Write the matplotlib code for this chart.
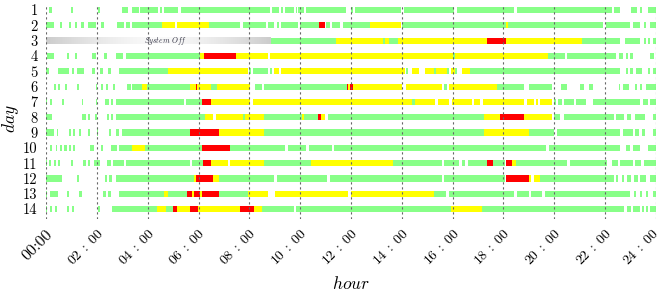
import numpy as np
import matplotlib
matplotlib.use("Agg")
import matplotlib.pyplot as plt
from matplotlib.transforms import ScaledTranslation

plt.rcParams['font.family'] = 'serif'
plt.rcParams['font.serif'] = ['cmr10', 'DejaVu Serif']
plt.rcParams['mathtext.fontset'] = 'cm'
plt.rcParams['axes.unicode_minus'] = False
plt.rcParams['axes.formatter.use_mathtext'] = True

# ---- data: (start_hour, end_hour, state) per day ----
day_01 = [(0.13,0.24,'g'),(0.97,1.06,'g'),(2.06,2.14,'g'),(2.99,3.23,'g'),(3.39,3.65,'g'),(3.70,4.41,'g'),
          (4.49,4.55,'g'),(4.65,5.21,'g'),(5.33,8.82,'g'),(8.91,9.15,'g'),(9.25,9.32,'g'),(9.41,9.74,'g'),
          (9.83,9.89,'g'),(9.93,10.17,'g'),(10.24,11.81,'g'),(12.01,12.06,'g'),(12.17,13.96,'g'),
          (14.09,16.07,'g'),(16.17,18.43,'g'),(18.53,22.27,'g'),(22.36,22.60,'g'),(23.03,23.26,'g'),
          (23.36,23.43,'g'),(23.69,24.0,'g')]
day_02 = [(0,0.31,'g'),(0.55,0.63,'g'),(0.92,0.98,'g'),(1.14,1.22,'g'),(1.39,1.50,'g'),(1.67,1.97,'g'),
          (2.17,2.28,'g'),(2.81,3.07,'g'),(3.15,3.31,'g'),(3.39,4.57,'g'),(4.57,5.08,'y'),(5.16,6.42,'y'),
          (6.42,7.64,'g'),(7.77,8.65,'g'),(8.73,8.99,'g'),(9.08,9.15,'g'),(9.24,9.93,'g'),(10.0,10.75,'g'),
          (10.75,10.98,'r'),(11.02,11.18,'g'),(11.27,11.57,'g'),(11.67,12.76,'g'),(12.76,13.96,'y'),
          (13.99,18.11,'g'),(18.11,18.18,'y'),(18.18,21.92,'g'),(22.02,22.99,'g'),(23.10,23.36,'g'),
          (23.52,23.62,'g'),(23.78,24.0,'g')]
day_03 = [(8.86,11.41,'g'),(11.41,13.24,'y'),(13.24,13.35,'g'),(13.35,13.50,'y'),(13.50,13.85,'g'),
          (13.85,17.35,'y'),(17.35,18.10,'r'),(18.10,21.09,'y'),(21.09,22.60,'g'),(22.78,23.36,'g'),
          (23.52,23.62,'g'),(23.70,23.78,'g'),(23.89,24.0,'g')]
day_04 = [(0.05,0.31,'g'),(0.81,0.91,'g'),(1.13,1.21,'g'),(1.80,1.97,'g'),(2.30,2.39,'g'),(2.76,3.04,'g'),
          (3.15,6.04,'g'),(6.04,6.22,'y'),(6.22,7.48,'r'),(7.48,8.73,'y'),(8.83,16.0,'y'),(16.0,16.1,'g'),
          (16.10,19.75,'y'),(19.75,20.43,'g'),(20.50,22.43,'g'),(22.53,22.69,'g'),(22.80,22.89,'g'),
          (22.99,23.10,'g'),(23.78,23.91,'g')]
day_05 = [(0,0.11,'g'),(0.48,0.91,'g'),(1.01,1.09,'g'),(1.23,1.48,'g'),(1.80,1.93,'g'),(2.14,2.23,'g'),
          (2.43,2.56,'g'),(2.89,4.81,'g'),(4.81,7.96,'y'),(7.99,8.07,'g'),(8.16,8.75,'g'),(8.83,8.91,'g'),
          (8.99,9.15,'y'),(9.24,14.13,'y'),(14.15,14.26,'g'),(14.40,14.66,'y'),(14.92,15.25,'y'),
          (15.25,15.33,'g'),(15.33,15.58,'y'),(15.60,15.78,'y'),(15.79,15.87,'g'),(15.92,16.10,'y'),
          (16.10,16.18,'g'),(16.37,16.67,'y'),(16.67,22.57,'g'),(22.80,22.90,'g'),(22.99,23.10,'g'),
          (23.20,23.43,'g'),(23.69,23.78,'g'),(23.89,24.0,'g')]
day_06 = [(0.33,0.39,'g'),(0.48,0.55,'g'),(0.75,0.81,'g'),(1.21,1.30,'g'),(1.97,2.02,'g'),(2.17,2.26,'g'),
          (2.36,2.45,'g'),(2.65,2.73,'g'),(3.18,3.33,'g'),(3.40,3.77,'g'),(3.77,3.96,'y'),(3.96,5.67,'g'),
          (5.67,5.89,'y'),(5.89,5.96,'r'),(5.96,6.50,'y'),(6.50,6.74,'g'),(6.74,8.03,'y'),(8.23,8.49,'g'),
          (8.58,11.84,'g'),(11.84,11.90,'r'),(11.90,11.98,'y'),(11.98,12.06,'r'),(12.06,14.0,'y'),
          (14.17,15.60,'y'),(15.67,15.78,'g'),(15.85,17.74,'y'),(17.74,18.82,'g'),(19.02,19.91,'g'),
          (20.28,20.50,'g'),(21.02,21.18,'g'),(21.35,21.51,'g'),(22.53,22.60,'g'),(22.70,22.93,'g'),
          (23.19,23.26,'g'),(23.39,23.46,'g'),(23.61,24.0,'g')]
day_07 = [(0,0.05,'g'),(0.16,0.24,'g'),(0.64,0.71,'g'),(1.40,1.47,'g'),(1.97,2.0,'g'),(2.32,2.47,'g'),
          (2.55,2.63,'g'),(2.76,5.41,'g'),(5.50,6.15,'g'),(6.15,6.50,'r'),(6.50,8.03,'y'),(8.16,14.40,'y'),
          (14.40,14.50,'g'),(14.50,15.31,'y'),(15.44,15.84,'y'),(15.96,16.77,'y'),(16.85,17.09,'y'),
          (17.18,18.82,'y'),(18.93,19.19,'y'),(19.28,19.34,'y'),(19.42,19.91,'y'),(20.0,20.08,'g'),
          (20.13,20.30,'g'),(20.37,20.76,'g'),(20.85,21.26,'g'),(21.52,23.36,'g'),(23.49,23.67,'g'),
          (23.78,24.0,'g')]
day_08 = [(0,0.22,'g'),(1.40,1.56,'g'),(1.64,1.73,'g'),(1.93,2.0,'g'),(2.39,2.49,'g'),(2.55,2.65,'g'),
          (2.74,6.25,'g'),(6.25,6.59,'y'),(6.68,7.77,'y'),(7.77,7.83,'g'),(7.83,8.56,'y'),(8.56,10.07,'g'),
          (10.07,10.16,'y'),(10.16,10.72,'g'),(10.72,10.83,'r'),(10.83,10.98,'y'),(11.09,17.24,'g'),
          (17.24,17.85,'y'),(17.85,18.82,'r'),(18.82,19.91,'y'),(19.97,20.24,'g'),(20.37,22.36,'g'),
          (22.44,22.76,'g'),(22.86,23.02,'g'),(23.19,23.58,'g'),(23.87,24.0,'g')]
day_09 = [(0,0.31,'g'),(0.42,0.46,'g'),(0.92,0.98,'g'),(1.08,1.15,'g'),(1.31,1.38,'g'),(1.67,1.73,'g'),
          (2.0,2.06,'g'),(2.48,2.57,'g'),(2.76,2.89,'g'),(3.0,5.67,'g'),(5.67,6.82,'r'),(6.82,8.56,'y'),
          (8.56,17.24,'g'),(17.24,19.02,'y'),(19.02,19.97,'g'),(20.11,22.60,'g'),(22.70,23.10,'g'),
          (23.19,23.32,'g'),(23.45,23.58,'g'),(23.87,24.0,'g')]
day_10 = [(0.16,0.22,'g'),(0.38,0.45,'g'),(0.55,0.63,'g'),(0.72,0.81,'g'),(0.92,0.98,'g'),(1.08,1.14,'g'),
          (1.73,1.89,'g'),(2.17,2.23,'g'),(2.57,2.81,'g'),(2.89,3.37,'g'),(3.37,3.91,'y'),(3.91,6.14,'g'),
          (6.14,7.24,'r'),(7.24,9.41,'g'),(9.52,10.24,'g'),(10.33,11.25,'g'),(11.34,19.69,'g'),
          (19.78,22.60,'g'),(22.80,22.99,'g'),(23.10,23.36,'g'),(23.67,24.0,'g')]
day_11 = [(0,0.05,'g'),(0.12,0.20,'g'),(0.31,0.38,'g'),(0.48,0.55,'g'),(0.98,1.08,'g'),(1.47,1.56,'g'),
          (1.64,1.73,'g'),(1.89,2.13,'g'),(2.39,2.55,'g'),(2.65,3.07,'g'),(3.15,5.67,'g'),(5.73,6.17,'g'),
          (6.17,6.50,'r'),(6.50,7.15,'y'),(7.24,8.56,'y'),(8.56,10.42,'g'),(10.42,13.65,'y'),
          (13.65,15.58,'g'),(15.67,16.23,'g'),(16.37,16.50,'g'),(16.60,17.35,'g'),(17.35,17.59,'r'),
          (17.59,18.07,'g'),(18.11,18.33,'r'),(18.33,18.50,'y'),(18.50,20.50,'g'),(20.60,22.07,'g'),
          (22.27,22.49,'g'),(22.60,23.10,'g'),(23.19,23.41,'g'),(23.52,24.0,'g')]
day_12 = [(0,0.64,'g'),(1.23,1.31,'g'),(2.32,2.41,'g'),(2.49,2.59,'g'),(2.74,5.83,'g'),(5.83,5.91,'y'),
          (5.91,6.56,'r'),(6.56,6.82,'y'),(6.82,8.99,'g'),(9.08,11.07,'g'),(11.18,15.58,'g'),
          (15.67,18.07,'g'),(18.11,19.02,'r'),(19.02,19.09,'y'),(19.19,19.42,'y'),(19.42,22.33,'g'),
          (22.44,22.49,'g'),(22.67,22.76,'g'),(22.86,23.02,'g'),(23.12,23.28,'g'),(23.39,23.62,'g'),
          (23.75,24.0,'g')]
day_13 = [(0,0.05,'g'),(0.16,0.46,'g'),(0.81,0.91,'g'),(1.31,1.40,'g'),(2.26,2.35,'g'),(2.43,2.56,'g'),
          (2.89,4.65,'g'),(4.65,4.81,'y'),(4.81,5.56,'g'),(5.56,5.73,'r'),(5.73,5.83,'y'),(5.83,6.06,'r'),
          (6.06,6.15,'y'),(6.15,6.82,'r'),(6.82,7.94,'g'),(7.94,8.73,'y'),(9.02,11.90,'y'),
          (12.01,15.28,'y'),(15.28,15.75,'g'),(15.87,18.40,'g'),(18.53,19.02,'g'),(19.09,19.52,'g'),
          (19.62,22.99,'g'),(23.12,23.23,'g'),(23.36,23.45,'g'),(23.61,23.69,'g'),(23.87,24.0,'g')]
day_14 = [(0,0.05,'g'),(0.16,0.25,'g'),(0.35,0.42,'g'),(0.81,0.91,'g'),(1.01,1.10,'g'),(2.06,2.13,'g'),
          (2.59,4.38,'g'),(4.38,4.72,'y'),(4.72,4.99,'g'),(4.99,5.15,'r'),(5.15,5.67,'y'),(5.67,5.97,'r'),
          (5.97,7.64,'y'),(7.64,8.20,'r'),(8.20,8.49,'y'),(8.49,9.74,'g'),(9.83,15.94,'g'),
          (15.94,17.15,'y'),(17.15,22.76,'g'),(22.86,23.02,'g'),(23.10,23.36,'g'),(23.45,23.52,'g'),
          (23.61,23.69,'g'),(23.75,24.0,'g')]

days = [day_01, day_02, day_03, day_04, day_05, day_06, day_07,
        day_08, day_09, day_10, day_11, day_12, day_13, day_14]
day_labels = [str(i) for i in range(1, 15)]

system_off_day = 3
system_off_span = (0.0, 8.82)

hour_ticks = list(range(0, 25, 2))
hour_labels = ['00:00'] + [r'$%02d\;:\;00$' % h for h in hour_ticks[1:]]

state_colors = {'g': '#88ff88', 'y': '#ffff00', 'r': '#ff0000'}

# ---- figure ----
fig = plt.figure(figsize=(6.64, 2.91), dpi=100)
ax = fig.add_axes([46/664, 1 - 219/291, 610/664, 213/291])

bar_h = 0.40
for i, segs in enumerate(days):
    y = i + 1
    for s, e, c in segs:
        ax.broken_barh([(s, e - s)], (y - bar_h/2, bar_h), facecolors=state_colors[c],
                       edgecolor='none', linewidth=0, zorder=2)

# system off gradient bar
t = np.linspace(0, 1, 256)
lvl = 0.80 + 0.18 * np.clip(1 - np.abs((t - 0.5) / 0.5) ** 1.5, 0, 1)
grad = np.dstack([lvl, lvl, lvl]).reshape(1, 256, 3)
ax.imshow(grad, extent=(system_off_span[0], system_off_span[1],
                        system_off_day + bar_h/2, system_off_day - bar_h/2),
          aspect='auto', zorder=2, interpolation='bilinear')
ax.text(4.72, system_off_day, r'$System\ Off$', fontsize=5.5, color='#333344',
        ha='center', va='center', zorder=4)

for h in hour_ticks:
    ax.axvline(h, color='#666666', linestyle=(0, (2, 2.5)), linewidth=0.8, zorder=3)

ax.set_xlim(0, 24)
ax.set_ylim(14.65, 0.73)
ax.set_xticks(hour_ticks)
ax.set_xticklabels(hour_labels, rotation=45, ha='right', va='top',
                   rotation_mode='anchor', fontsize=10)
ax.set_yticks(range(1, 15))
ax.set_yticklabels(day_labels, fontsize=10.5)
ax.tick_params(axis='both', length=0)
ax.tick_params(axis='y', pad=6)
ax.tick_params(axis='x', pad=6)
for sp in ax.spines.values():
    sp.set_visible(False)

xlabels = ax.get_xticklabels()
xlabels[0].set_fontsize(11.5)
# keep the last rotated label inside the canvas
last = xlabels[-1]
last.set_transform(last.get_transform() + ScaledTranslation(-4/100, 0, fig.dpi_scale_trans))

ax.set_xlabel('$hour$', fontsize=12.5)
ax.xaxis.set_label_coords(0.5, -(275 - 219) / 213)
ax.set_ylabel('$day$', fontsize=12.5)
ax.yaxis.set_label_coords(-(46 - 21) / 610, 0.47)

fig.savefig('out.png', dpi=100)
